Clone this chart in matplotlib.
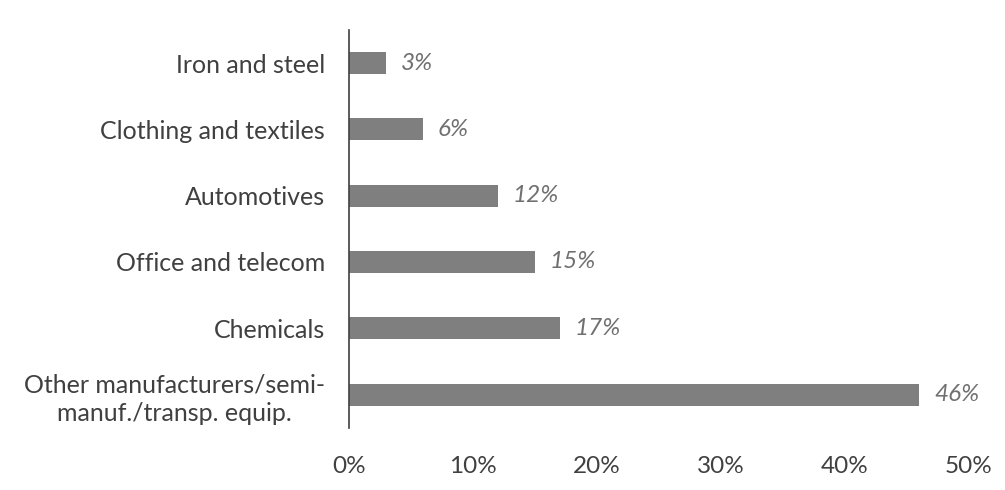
import matplotlib
matplotlib.use("Agg")
import matplotlib.pyplot as plt
from matplotlib.ticker import PercentFormatter

categories = [
    "Iron and steel",
    "Clothing and textiles",
    "Automotives",
    "Office and telecom",
    "Chemicals",
    "Other manufacturers/semi-\nmanuf./transp. equip.",
]
shares = [3, 6, 12, 15, 17, 46]
ticks = [0, 10, 20, 30, 40, 50]

plt.rcParams["font.family"] = ["Lato", "DejaVu Sans"]

fig = plt.figure(figsize=(10.05, 4.9), dpi=100)
ax = fig.add_axes([0.347, 0.127, 0.617, 0.812])

ypos = list(range(len(categories)))
ax.barh(ypos, shares, height=0.33, color="#7f7f7f")
ax.set_ylim(len(categories) - 0.5, -0.5)
ax.set_xlim(0, 50)
ax.set_yticks(ypos)
ax.set_yticklabels(categories, fontsize=18, color="#404040", ha="right",
                   multialignment="center", linespacing=1.3)
ax.tick_params(axis="y", length=0, pad=17)
ax.set_xticks(ticks)
ax.xaxis.set_major_formatter(PercentFormatter(decimals=0))
ax.tick_params(axis="x", length=0, labelsize=17.5, labelcolor="#404040", pad=20)

for y, v in zip(ypos, shares):
    ax.text(v + 1.2, y, f"{v}%", va="center", ha="left", fontsize=17.5,
            style="italic", color="#707070")

for side in ("top", "right", "bottom"):
    ax.spines[side].set_visible(False)
ax.spines["left"].set_color("#404040")
ax.spines["left"].set_linewidth(1.2)

fig.savefig("out.png", dpi=100)
